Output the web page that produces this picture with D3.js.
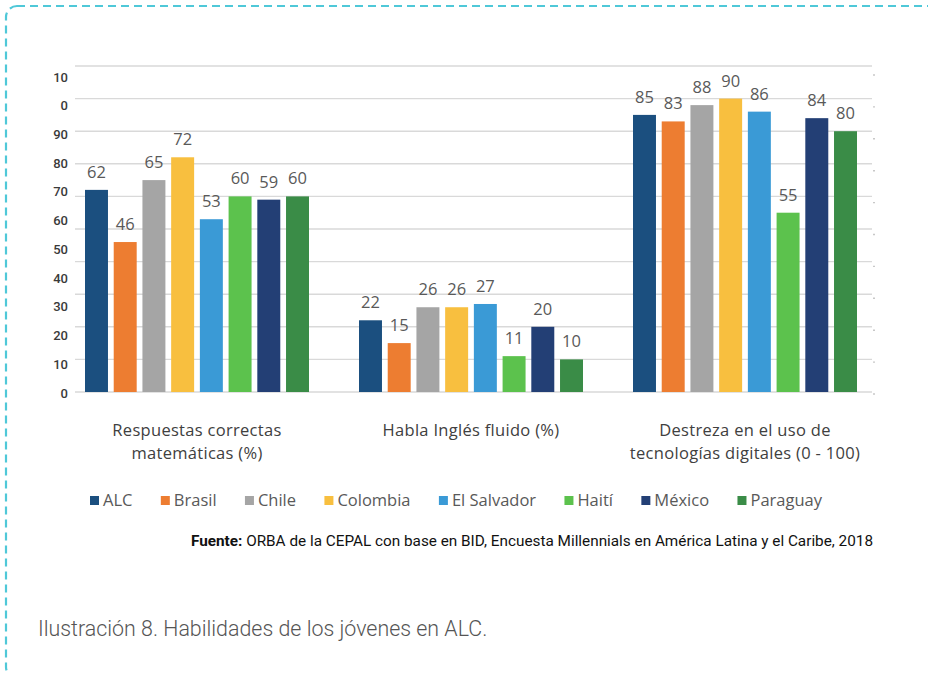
<!DOCTYPE html>
<html>
<head>
<meta charset="utf-8">
<script src="https://cdn.jsdelivr.net/npm/d3@7"></script>
<style>
  html, body { margin: 0; padding: 0; background: #fff; }
  svg { display: block; }
</style>
</head>
<body>
<svg id="chart" width="928" height="673"></svg>
<script>
// Indicator groups (x axis), each label split over lines
const categories = [
  ["Respuestas correctas", "matemáticas (%)"],
  ["Habla Inglés fluido (%)"],
  ["Destreza en el uso de", "tecnologías digitales (0 - 100)"]
];
const series = ["ALC", "Brasil", "Chile", "Colombia", "El Salvador", "Haití", "México", "Paraguay"];
const colors = ["#1b4f7f", "#ed7d31", "#a5a5a5", "#f8bf3f", "#3a9ad6", "#5cc24d", "#233f75", "#3a8c47"];

// Values per indicator, in series order
const matematicas = [62, 46, 65, 72, 53, 60, 59, 60];
const ingles      = [22, 15, 26, 26, 27, 11, 20, 10];
const digitales   = [85, 83, 88, 90, 86, 55, 84, 80];
const values = [matematicas, ingles, digitales];

// Labels printed along the left axis
const tickLabels = ["10", "0", "90", "80", "70", "60", "50", "40", "30", "20", "10", "0"];
const gridTicks = [0, 10, 20, 30, 40, 50, 60, 70, 80, 90, 100];

const source = "ORBA de la CEPAL con base en BID, Encuesta Millennials en América Latina y el Caribe, 2018";
const caption = "Ilustración 8. Habilidades de los jóvenes en ALC.";

const svg = d3.select("#chart");

// Dashed frame around the figure
svg.append("rect")
  .attr("x", 6).attr("y", 6)
  .attr("width", 960).attr("height", 672)
  .attr("rx", 11).attr("ry", 11)
  .attr("fill", "none")
  .attr("stroke", "#4fc8d8")
  .attr("stroke-width", 2.2)
  .attr("stroke-dasharray", "8,5");

const plotLeft = 75, plotRight = 872;
const y = d3.scaleLinear().domain([0, 100]).range([392, 66]);
const x0 = d3.scaleBand().domain(d3.range(categories.length)).range([60, 882]).paddingInner(0).paddingOuter(0);
const x1 = d3.scaleBand().domain(d3.range(series.length)).range([25, x0.bandwidth() - 25]).paddingInner(0.2);

// Gridlines
svg.append("g")
  .selectAll("line")
  .data(gridTicks)
  .join("line")
  .attr("x1", plotLeft).attr("x2", plotRight)
  .attr("y1", d => y(d)).attr("y2", d => y(d))
  .attr("stroke", "#d9d9d9")
  .attr("stroke-width", 1.4);

// Small ticks on the right edge
const yRight = d3.scaleLinear().domain([0, 100]).range([394, 75]);
svg.append("g")
  .selectAll("line")
  .data(gridTicks)
  .join("line")
  .attr("x1", plotRight + 1).attr("x2", plotRight + 3)
  .attr("y1", d => yRight(d)).attr("y2", d => yRight(d))
  .attr("stroke", "#c8c8c8")
  .attr("stroke-width", 1.4);

// Left axis labels
const yLabels = d3.scalePoint().domain(d3.range(tickLabels.length)).range([77, 393]);
svg.append("g")
  .selectAll("text")
  .data(tickLabels)
  .join("text")
  .attr("x", 68)
  .attr("y", (d, i) => yLabels(i))
  .attr("dy", "0.35em")
  .attr("text-anchor", "end")
  .attr("font-family", "Roboto, sans-serif")
  .attr("font-weight", 500)
  .attr("font-size", 13)
  .attr("fill", "#3a3a3a")
  .text(d => d);

// Bars and value labels
const groups = svg.append("g")
  .selectAll("g")
  .data(values)
  .join("g")
  .attr("transform", (d, i) => `translate(${x0(i)},0)`);

groups.selectAll("rect")
  .data(d => d)
  .join("rect")
  .attr("x", (d, i) => x1(i))
  .attr("width", x1.bandwidth())
  .attr("y", d => y(d))
  .attr("height", d => y(0) - y(d))
  .attr("fill", (d, i) => colors[i]);

groups.selectAll("text")
  .data(d => d)
  .join("text")
  .attr("x", (d, i) => x1(i) + x1.bandwidth() / 2)
  .attr("y", d => y(d) - 12)
  .attr("text-anchor", "middle")
  .attr("font-family", "'Open Sans', sans-serif")
  .attr("font-size", 16.5)
  .attr("fill", "#595959")
  .text(d => d);

// Category labels
svg.append("g")
  .selectAll("text")
  .data(categories)
  .join("text")
  .attr("x", (d, i) => x0(i) + x0.bandwidth() / 2)
  .attr("y", 436)
  .attr("text-anchor", "middle")
  .attr("font-family", "'Open Sans', sans-serif")
  .attr("font-size", 16.5)
  .attr("letter-spacing", 0.3)
  .attr("fill", "#404040")
  .each(function(d) {
    const t = d3.select(this);
    d.forEach((line, k) => {
      t.append("tspan")
        .attr("x", t.attr("x"))
        .attr("dy", k === 0 ? 0 : 23)
        .text(line);
    });
  });

// Legend
const legend = svg.append("g");
const items = legend.selectAll("g")
  .data(series)
  .join("g");
items.append("rect")
  .attr("width", 9).attr("height", 9)
  .attr("y", 496)
  .attr("fill", (d, i) => colors[i]);
items.append("text")
  .attr("x", 13)
  .attr("y", 506)
  .attr("font-family", "'Open Sans', sans-serif")
  .attr("font-size", 16.5)
  .attr("fill", "#595959")
  .text(d => d);
const widths = [];
items.select("text").each(function() { widths.push(13 + this.getComputedTextLength()); });
const legendStart = 90, legendEnd = 822;
const gap = (legendEnd - legendStart - d3.sum(widths)) / (series.length - 1);
let cx = legendStart;
items.attr("transform", (d, i) => {
  const tx = cx;
  cx += widths[i] + gap;
  return `translate(${tx},0)`;
});

// Source note
const note = svg.append("text")
  .attr("x", 873)
  .attr("y", 546)
  .attr("text-anchor", "end")
  .attr("font-family", "Roboto, sans-serif")
  .attr("font-size", 15.3)
  .attr("fill", "#111");
note.append("tspan").attr("font-weight", 700).text("Fuente: ");
note.append("tspan").text(source);

// Figure caption
svg.append("text")
  .attr("x", 38)
  .attr("y", 636)
  .attr("font-family", "Roboto, sans-serif")
  .attr("font-weight", 300)
  .attr("font-size", 21.4)
  .attr("fill", "#555")
  .text(caption);
</script>
</body>
</html>
